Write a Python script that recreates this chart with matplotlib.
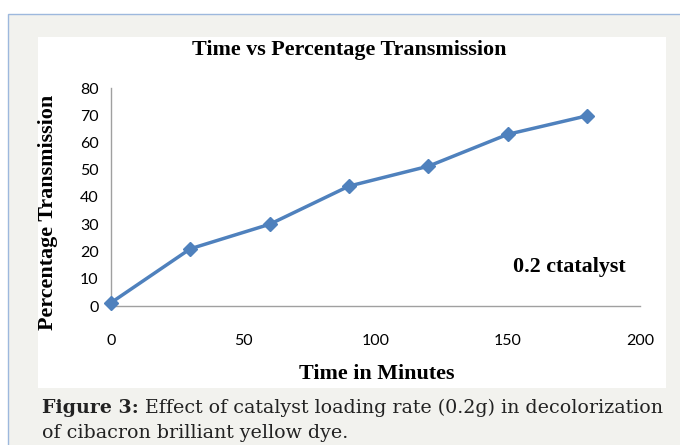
import matplotlib.pyplot as plt
from matplotlib.patches import Rectangle

# data
minutes = [0, 30, 60, 90, 120, 150, 180]
transmission = [1.2, 21, 30, 44, 51.3, 63, 69.8]
x_ticks = [0, 50, 100, 150, 200]
y_ticks = [0, 10, 20, 30, 40, 50, 60, 70, 80]

W, H = 680, 445
fig = plt.figure(figsize=(W / 100, H / 100), dpi=100)
fig.patch.set_facecolor('white')

def px(x0, y0, x1, y1):
    # pixel box (top-left origin) -> figure fraction rect
    return (x0 / W, 1 - y1 / H, (x1 - x0) / W, (y1 - y0) / H)

# grey panel with blue border
x, y, w, h = px(8, 14, 690, 450)
fig.patches.append(Rectangle((x, y), w, h, transform=fig.transFigure,
                             facecolor='#f2f2ee', edgecolor='#9db8dd', lw=1.0, zorder=-2))
# white chart area
x, y, w, h = px(38, 37, 666, 388)
fig.patches.append(Rectangle((x, y), w, h, transform=fig.transFigure,
                             facecolor='white', edgecolor='none', zorder=-1))

ax = fig.add_axes(px(111, 88, 640, 306))
ax.set_zorder(2)
ax.set_facecolor('none')
ax.plot(minutes, transmission, color='#4f81bd', lw=2.5, marker='D', ms=7.5,
        markeredgecolor='#4f81bd', clip_on=False, zorder=5)

ax.set_xlim(0, 200)
ax.set_ylim(0, 80)
ax.set_xticks(x_ticks)
ax.set_yticks(y_ticks)
for s in ['top', 'right']:
    ax.spines[s].set_visible(False)
for s in ['left', 'bottom']:
    ax.spines[s].set_color('#a0a0a0')
    ax.spines[s].set_linewidth(1.0)
ax.tick_params(length=0, labelsize=11.5, colors='black', labelfontfamily='Lato')
ax.tick_params(axis='x', pad=20)
ax.tick_params(axis='y', pad=9)

serif = dict(family='Liberation Serif', fontweight='bold', fontsize=15.8)
fig.text(349 / W, 1 - 50 / H, 'Time vs Percentage Transmission', ha='center', va='center', **serif)
fig.text(377 / W, 1 - 374 / H, 'Time in Minutes', ha='center', va='center', **serif)
fig.text(48 / W, 1 - 212 / H, 'Percentage Transmission', ha='center', va='center',
         rotation=90, **serif)
fig.text(569 / W, 1 - 267 / H, '0.2 ctatalyst', ha='center', va='center', **serif)

# caption
cap = dict(family='DejaVu Serif', fontsize=13.7, color='#222222', va='center', ha='left')
fig.text(42 / W, 1 - 408 / H, 'Figure 3:', fontweight='bold', **cap)
fig.text(145 / W, 1 - 408 / H, 'Effect of catalyst loading rate (0.2g) in decolorization', **cap)
fig.text(42 / W, 1 - 433 / H, 'of cibacron brilliant yellow dye.', **cap)

fig.savefig('out.png', dpi=100, facecolor=fig.get_facecolor())
